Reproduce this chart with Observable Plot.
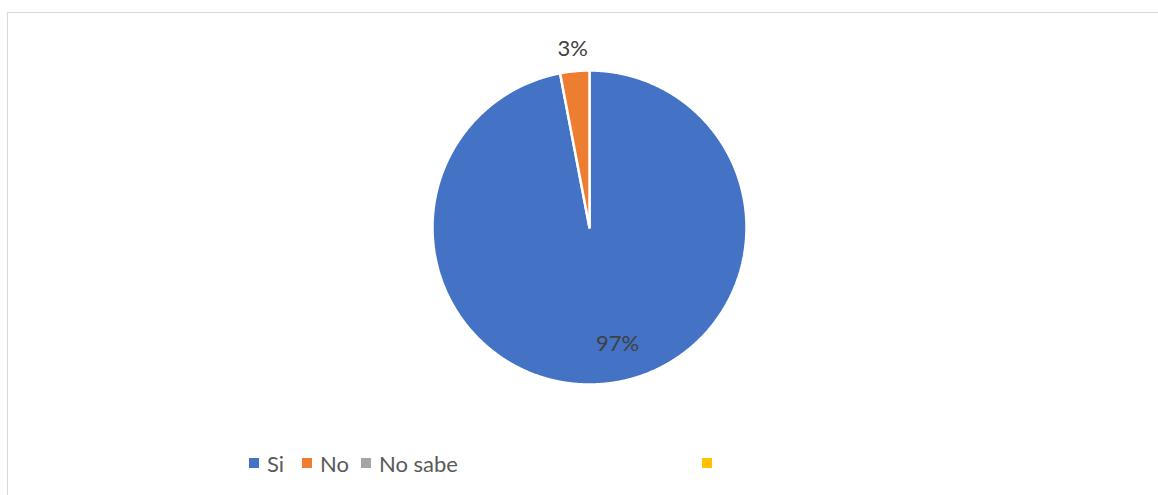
<!DOCTYPE html>
<html>
<head>
<meta charset="utf-8">
<script src="https://cdn.jsdelivr.net/npm/d3@7"></script>
<script src="https://cdn.jsdelivr.net/npm/@observablehq/plot@0.6"></script>
<style>
  html, body { margin: 0; padding: 0; background: #fff; }
  #frame { position: absolute; left: 7px; top: 12px; width: 1170px; height: 500px; border: 1px solid #d9d9d9; box-sizing: border-box; }
  #chart { position: absolute; left: 0; top: 0; }
  #legend { position: absolute; left: 0; top: 448px; width: 1158px; height: 30px; font-family: Lato, "Open Sans", sans-serif; font-size: 22px; color: #595959; }
  .item { position: absolute; top: 0; display: flex; align-items: center; height: 30px; white-space: nowrap; }
  .sw { width: 10px; height: 10px; margin-right: 8px; display: inline-block; }
</style>
</head>
<body>
<div id="frame"></div>
<div id="chart"></div>
<div id="legend"></div>
<script>
const categories = ["Si", "No", "No sabe"];
const values = [97, 3, 0];
const colors = ["#4472C4", "#ED7D31", "#A5A5A5"];
const extraLegendColor = "#FFC000";
const labels = ["97%", "3%", ""];

const total = d3.sum(values);
const pie = d3.pie().sort(null).value(d => d.value)(categories.map((c, i) => ({category: c, value: values[i]})));

// Build outline points for each slice in unit-circle coords (angle clockwise from top)
const slicePts = [];
pie.forEach(p => {
  if (p.endAngle - p.startAngle <= 0) return;
  const cat = p.data.category;
  slicePts.push({category: cat, x: 0, y: 0});
  const n = Math.max(2, Math.ceil((p.endAngle - p.startAngle) / (Math.PI / 720)));
  for (let k = 0; k <= n; k++) {
    const a = p.startAngle + (p.endAngle - p.startAngle) * k / n;
    slicePts.push({category: cat, x: Math.sin(a), y: Math.cos(a)});
  }
  slicePts.push({category: cat, x: 0, y: 0});
});

const labelData = pie.filter(p => p.value > 0).map(p => {
  const mid = (p.startAngle + p.endAngle) / 2;
  const inside = p.value / total > 0.1;
  const r = inside ? 0.745 : 1.14;
  return {category: p.data.category, label: labels[categories.indexOf(p.data.category)], x: r * Math.sin(mid), y: r * Math.cos(mid), inside};
});

const W = 1158, H = 440;
const cx = 589, cy = 227, R = 157;

const chart = Plot.plot({
  width: W,
  height: H,
  marginLeft: cx - R,
  marginRight: W - (cx + R),
  marginTop: cy - R,
  marginBottom: H - (cy + R),
  x: {domain: [-1, 1], axis: null},
  y: {domain: [-1, 1], axis: null},
  color: {domain: categories, range: colors},
  style: {background: "transparent", overflow: "visible"},
  marks: [
    Plot.line(slicePts, {x: "x", y: "y", z: "category", fill: "category", stroke: "white", strokeWidth: 2.5, strokeLinejoin: "miter", curve: "linear"}),
    Plot.text(labelData.filter(d => d.inside), {x: "x", y: "y", text: "label", fill: "#404040", fontSize: 22, fontFamily: "Lato, 'Open Sans', sans-serif", dx: 17}),
    Plot.text(labelData.filter(d => !d.inside), {x: "x", y: "y", text: "label", fill: "#404040", fontSize: 22, fontFamily: "Lato, 'Open Sans', sans-serif"})
  ]
});
document.getElementById("chart").appendChild(chart);

// Legend
const legend = document.getElementById("legend");
const legendLeft = [249, 302, 361];
categories.forEach((c, i) => {
  const it = document.createElement("div");
  it.className = "item";
  it.style.left = legendLeft[i] + "px";
  it.innerHTML = `<span class="sw" style="background:${colors[i]}"></span><span>${c}</span>`;
  legend.appendChild(it);
});
const extra = document.createElement("div");
extra.className = "item";
extra.style.left = "702px";
extra.innerHTML = `<span class="sw" style="background:${extraLegendColor}"></span>`;
legend.appendChild(extra);
</script>
</body>
</html>
